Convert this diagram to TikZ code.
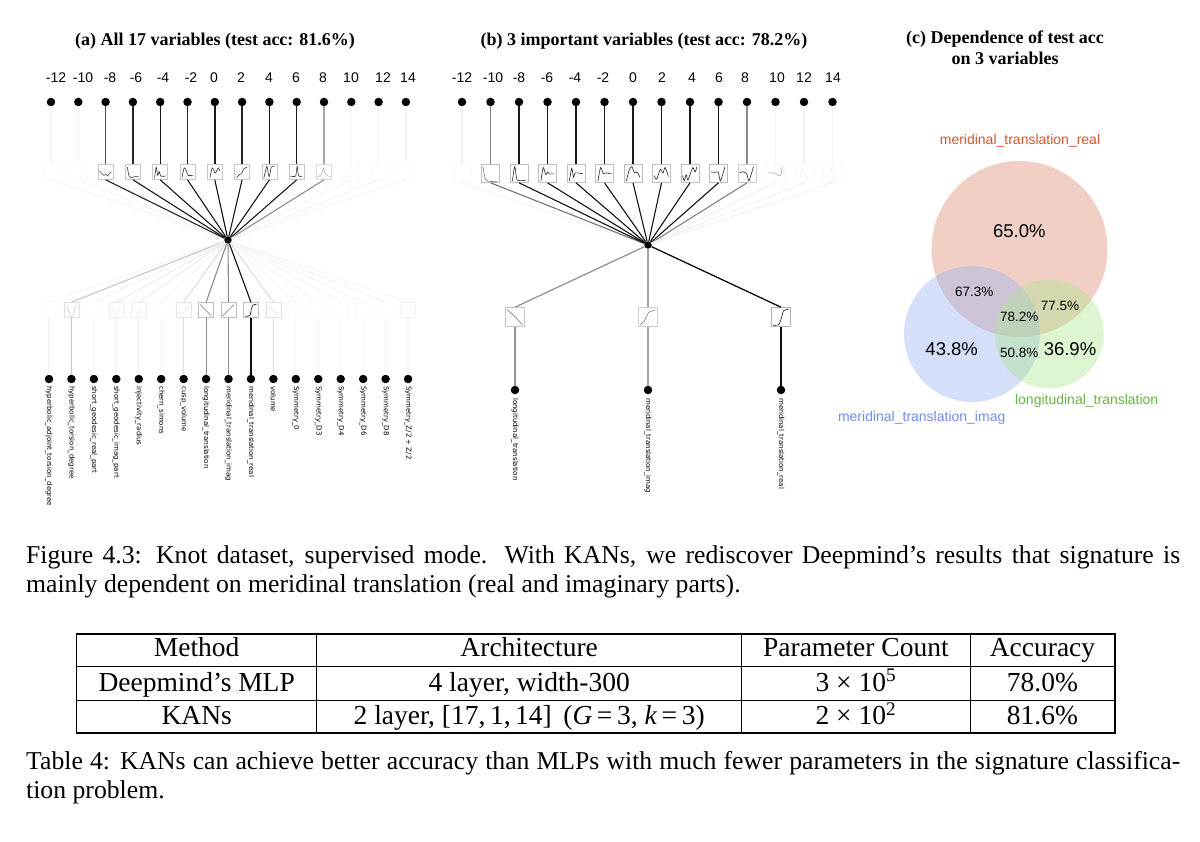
\documentclass[tikz,border=0pt]{standalone}
\usepackage{fontspec}
\setmainfont{Liberation Serif}
\newfontfamily\arialf{Liberation Sans}
\newfontfamily\djv{DejaVu Sans}
\definecolor{vred}{RGB}{222,137,112}
\definecolor{vblue}{RGB}{152,177,242}
\definecolor{vgreen}{RGB}{172,230,142}
\definecolor{tred}{RGB}{208,88,52}
\definecolor{tblue}{RGB}{110,143,230}
\definecolor{tgreen}{RGB}{104,180,66}
\newcommand\kfn[4]{\draw[#2, line width=0.6pt, x=#3, y=#3, shift={(#1.south west)}] plot[smooth, tension=0.4] coordinates {#4};}
\begin{document}
\begin{tikzpicture}[x=1pt,y=-1pt,
  dot/.style={circle,fill=black,inner sep=0,minimum size=8.5pt},
  hid/.style={circle,fill=black,inner sep=0,minimum size=7.5pt},
  fbox/.style={draw=black!#1,fill=white,inner sep=0,line width=0.6pt},
  num/.style={font=\arialf\fontsize{14}{16}\selectfont},
  vlab/.style={font=\djv\fontsize{7}{8}\selectfont, rotate=-90, anchor=west, inner sep=0},
  ptitle/.style={font=\bfseries\fontsize{18}{21}\selectfont, align=center},
  vnum/.style={font=\arialf\fontsize{18.5}{20}\selectfont},
  vsm/.style={font=\arialf\fontsize{13.5}{15}\selectfont},
  vtxt/.style={font=\arialf\fontsize{14}{16}\selectfont},
  cell/.style={font=\fontsize{27.5}{30}\selectfont, anchor=base, inner sep=0},
  capl/.style={font=\fontsize{25.7}{29}\selectfont, anchor=base west, inner sep=0}]
\fill[white] (0,0) rectangle (1200,842);
\useasboundingbox (0,0) rectangle (1200,842);

% ---------------- panel (a) ----------------
\node[ptitle] (ta) at (215,41) {(a) All 17 variables (test acc: 81.6\%)};
\node[hid] (ah) at (228,240) {};
\foreach \i/\x/\t in {0/56/-12,1/83/-10,2/110/-8,3/136/-6,4/163/-4,5/191/-2,6/214/0,7/241/2,8/269/4,9/296/6,10/323/8,11/351/10,12/383/12,13/408/14}
  \node[num] (na\i) at (\x,78) {\t};
\foreach \i/\e/\d/\b in {0/4/4/2,1/4/4/2,2/70/85/22,3/85/90/22,4/90/90/22,5/85/90/22,6/90/95/22,7/85/90/22,8/90/90/22,9/90/90/22,10/35/45/14,11/4/4/2,12/4/4/2,13/4/4/2}{
  \node[dot] (at\i) at ({51+27.3*\i},102) {};
  \node[fbox=\b, minimum size=15pt] (ab\i) at ({51+27.3*\i},172) {};
  \draw[line width=1.4pt, black!\e] (at\i) -- (ab\i.north);
  \draw[line width=1.1pt, black!\d] (ab\i.south) -- (ah);
}
\kfn{ab2}{black!70}{15pt}{(0.1,0.6) (0.25,0.45) (0.4,0.3) (0.55,0.35) (0.65,0.25) (0.8,0.45) (0.9,0.5)}
\kfn{ab3}{black!80}{15pt}{(0.15,0.85) (0.25,0.3) (0.4,0.15) (0.6,0.2) (0.9,0.2)}
\kfn{ab4}{black!80}{15pt}{(0.15,0.1) (0.25,0.85) (0.35,0.3) (0.45,0.55) (0.55,0.25) (0.9,0.25)}
\kfn{ab5}{black!80}{15pt}{(0.15,0.15) (0.3,0.8) (0.45,0.6) (0.55,0.3) (0.9,0.3)}
\kfn{ab6}{black!80}{15pt}{(0.2,0.15) (0.35,0.8) (0.55,0.45) (0.75,0.8) (0.85,0.6)}
\kfn{ab7}{black!80}{15pt}{(0.15,0.15) (0.35,0.35) (0.5,0.4) (0.6,0.7) (0.85,0.85)}
\kfn{ab8}{black!80}{15pt}{(0.15,0.1) (0.35,0.9) (0.5,0.2) (0.65,0.85) (0.85,0.9)}
\kfn{ab9}{black!80}{15pt}{(0.1,0.25) (0.45,0.25) (0.55,0.9) (0.65,0.25) (0.9,0.25)}
\kfn{ab10}{black!30}{15pt}{(0.1,0.2) (0.35,0.35) (0.5,0.8) (0.6,0.4) (0.9,0.2)}
\foreach \j/\e/\b in {0/4/2,1/22/12,2/4/2,3/7/7,4/7/7,5/4/2,6/13/10,7/45/25,8/45/25,9/95/25,10/13/12,11/4/2,12/4/2,13/4/2,14/4/2,15/4/2,16/4/5}{
  \node[fbox=\b, minimum size=15pt] (bb\j) at ({49+22.44*\j},310) {};
  \node[dot] (bd\j) at ({49+22.44*\j},379) {};
  \draw[line width=1.1pt, black!\e] (ah) -- (bb\j.north);
  \draw[line width=1.1pt, black!\e] (bb\j.south) -- (bd\j);
}
\kfn{bb1}{black!20}{15pt}{(0.2,0.8) (0.45,0.15) (0.6,0.15) (0.8,0.85)}
\kfn{bb3}{black!8}{15pt}{(0.2,0.8) (0.4,0.2) (0.6,0.4) (0.8,0.7)}
\kfn{bb4}{black!8}{15pt}{(0.2,0.7) (0.4,0.3) (0.5,0.6) (0.8,0.3)}
\kfn{bb6}{black!10}{15pt}{(0.15,0.4) (0.4,0.2) (0.8,0.8)}
\kfn{bb7}{black!55}{15pt}{(0.12,0.88) (0.5,0.5) (0.88,0.12)}
\kfn{bb8}{black!55}{15pt}{(0.12,0.12) (0.5,0.5) (0.88,0.88)}
\kfn{bb9}{black!90}{15pt}{(0.15,0.1) (0.45,0.15) (0.55,0.6) (0.65,0.85) (0.9,0.9)}
\kfn{bb10}{black!12}{15pt}{(0.15,0.8) (0.85,0.2)}
\kfn{bb16}{black!7}{15pt}{(0.2,0.3) (0.5,0.6) (0.8,0.8)}
\node[vlab] (la0) at (49,386) {hyperbolic\_adjoint\_torsion\_degree};
\node[vlab] (la1) at (71.44,386) {hyperbolic\_torsion\_degree};
\node[vlab] (la2) at (93.88,386) {short\_geodesic\_real\_part};
\node[vlab] (la3) at (116.32,386) {short\_geodesic\_imag\_part};
\node[vlab] (la4) at (138.76,386) {injectivity\_radius};
\node[vlab] (la5) at (161.2,386) {chern\_simons};
\node[vlab] (la6) at (183.64,386) {cusp\_volume};
\node[vlab] (la7) at (206.08,386) {longitudinal\_translation};
\node[vlab] (la8) at (228.52,386) {meridinal\_translation\_imag};
\node[vlab] (la9) at (250.96,386) {meridinal\_translation\_real};
\node[vlab] (la10) at (273.4,386) {volume};
\node[vlab] (la11) at (295.84,386) {Symmetry\_0};
\node[vlab] (la12) at (318.28,386) {Symmetry\_D3};
\node[vlab] (la13) at (340.72,386) {Symmetry\_D4};
\node[vlab] (la14) at (363.16,386) {Symmetry\_D6};
\node[vlab] (la15) at (385.6,386) {Symmetry\_D8};
\node[vlab] (la16) at (408.04,386) {Symmetry\_Z/2 + Z/2};

% ---------------- panel (b) ----------------
\node[ptitle] (tb) at (644,41) {(b) 3 important variables (test acc: 78.2\%)};
\node[hid] (bh) at (648,245) {};
\foreach \i/\x/\t in {0/462/-12,1/493/-10,2/519/-8,3/547/-6,4/575/-4,5/603/-2,6/633/0,7/662/2,8/692/4,9/719/6,10/745/8,11/777/10,12/804/12,13/833/14}
  \node[num] (nb\i) at (\x,78) {\t};
\foreach \i/\e/\d/\b in {0/5/5/3,1/50/55/25,2/90/92/25,3/90/92/25,4/90/92/25,5/90/92/25,6/90/92/25,7/90/92/25,8/90/92/25,9/90/92/25,10/45/50/20,11/5/5/3,12/5/5/3,13/5/5/3}{
  \node[dot] (bt\i) at ({462+28.5*\i},102) {};
  \node[fbox=\b, minimum size=18pt] (tbx\i) at ({462+28.5*\i},173.5) {};
  \draw[line width=1.4pt, black!\e] (bt\i) -- (tbx\i.north);
  \draw[line width=1.1pt, black!\d] (tbx\i.south) -- (bh);
}
\kfn{tbx1}{black!55}{18pt}{(0.1,0.9) (0.2,0.3) (0.35,0.1) (0.9,0.06)}
\kfn{tbx2}{black!85}{18pt}{(0.15,0.1) (0.28,0.9) (0.42,0.15) (0.9,0.15)}
\kfn{tbx3}{black!85}{18pt}{(0.15,0.1) (0.28,0.85) (0.42,0.45) (0.52,0.6) (0.62,0.5) (0.9,0.5)}
\kfn{tbx4}{black!85}{18pt}{(0.15,0.1) (0.28,0.8) (0.38,0.3) (0.48,0.55) (0.9,0.5)}
\kfn{tbx5}{black!85}{18pt}{(0.15,0.1) (0.3,0.85) (0.45,0.5) (0.6,0.55) (0.9,0.5)}
\kfn{tbx6}{black!85}{18pt}{(0.15,0.1) (0.3,0.7) (0.45,0.9) (0.6,0.55) (0.75,0.6) (0.9,0.3)}
\kfn{tbx7}{black!85}{18pt}{(0.1,0.4) (0.25,0.2) (0.45,0.75) (0.6,0.55) (0.72,0.85) (0.9,0.35)}
\kfn{tbx8}{black!85}{18pt}{(0.1,0.4) (0.2,0.12) (0.3,0.45) (0.4,0.15) (0.55,0.55) (0.68,0.85) (0.8,0.6) (0.9,0.9)}
\kfn{tbx9}{black!85}{18pt}{(0.1,0.6) (0.35,0.58) (0.5,0.6) (0.62,0.1) (0.76,0.5) (0.88,0.9)}
\kfn{tbx10}{black!85}{18pt}{(0.1,0.55) (0.3,0.62) (0.5,0.5) (0.62,0.1) (0.76,0.5) (0.88,0.9)}
\kfn{tbx11}{black!35}{18pt}{(0.1,0.55) (0.4,0.55) (0.6,0.45) (0.8,0.4) (0.9,0.9)}
\kfn{tbx12}{black!6}{18pt}{(0.1,0.2) (0.3,0.3) (0.45,0.8) (0.55,0.3) (0.9,0.2)}
\kfn{tbx13}{black!6}{18pt}{(0.1,0.2) (0.3,0.3) (0.45,0.8) (0.55,0.3) (0.9,0.2)}
\foreach \n/\x/\e/\b in {bl/515/42/22,bi/648/35/20,br/781/95/30}{
  \node[fbox=\b, minimum size=19pt] (bx\n) at (\x,317) {};
  \node[dot] (bd\n) at (\x,390) {};
  \draw[line width=1.3pt, black!\e] (bh) -- (bx\n.north);
  \draw[line width=1.3pt, black!\e] (bx\n.south) -- (bd\n);
}
\kfn{bxbl}{black!55}{19pt}{(0.1,0.9) (0.5,0.55) (0.9,0.1)}
\kfn{bxbi}{black!50}{19pt}{(0.1,0.1) (0.35,0.35) (0.55,0.75) (0.9,0.9)}
\kfn{bxbr}{black!90}{19pt}{(0.1,0.08) (0.4,0.12) (0.55,0.5) (0.65,0.85) (0.9,0.92)}
\node[vlab] (lbl) at (515,398) {longitudinal\_translation};
\node[vlab] (lbi) at (648,398) {meridinal\_translation\_imag};
\node[vlab] (lbr) at (781,398) {meridinal\_translation\_real};

% ---------------- panel (c) ----------------
\node[ptitle] (tc) at (1005,48) {(c) Dependence of test acc\\on 3 variables};
\fill[vred, fill opacity=0.4] (1019.5,249) circle (88pt);
\fill[vblue, fill opacity=0.4] (972,334) circle (68pt);
\fill[vgreen, fill opacity=0.4] (1049.3,334) circle (54.5pt);
\node[vtxt, text=tred] (lr) at (1020,141) {meridinal\_translation\_real};
\node[vtxt, text=tblue] (li) at (921.7,418) {meridinal\_translation\_imag};
\node[vtxt, text=tgreen] (lg) at (1086.7,401) {longitudinal\_translation};
\node[vnum] (p1) at (1019.3,231) {65.0\%};
\node[vnum] (p2) at (951.7,349.5) {43.8\%};
\node[vnum] (p3) at (1070,349.5) {36.9\%};
\node[vsm] (p4) at (974.3,292) {67.3\%};
\node[vsm] (p5) at (1060,306) {77.5\%};
\node[vsm] (p6) at (1019.3,317) {78.2\%};
\node[vsm] (p7) at (1019.3,353) {50.8\%};

% ---------------- captions and table ----------------
\node[capl] (cap1) at (26,563) {\hbox to 1154pt{Figure 4.3: Knot dataset, supervised mode. With KANs, we rediscover Deepmind’s results that signature is}};
\node[capl] (cap2) at (26,592) {mainly dependent on meridinal translation (real and imaginary parts).};

\draw[line width=1.2pt] (76.7,634) rectangle (1115,733);
\draw[line width=1pt] (76.7,666) -- (1115,666);
\draw[line width=1pt] (76.7,700) -- (1115,700);
\draw[line width=1pt] (316.7,634) -- (316.7,733);
\draw[line width=1pt] (741.7,634) -- (741.7,733);
\draw[line width=1pt] (970,634) -- (970,733);
\node[cell] (h1) at (196.7,656.7) {Method};
\node[cell] (h2) at (529.2,656.7) {Architecture};
\node[cell] (h3) at (855.9,656.7) {Parameter Count};
\node[cell] (h4) at (1042.5,656.7) {Accuracy};
\node[cell] (r11) at (196.7,691) {Deepmind’s MLP};
\node[cell] (r12) at (529.2,691) {4 layer, width-300};
\node[cell] (r13) at (855.9,691) {3 × 10\textsuperscript{5}};
\node[cell] (r14) at (1042.5,691) {78.0\%};
\node[cell] (r21) at (196.7,724.3) {KANs};
\node[cell] (r22) at (529.2,724.3) {2 layer, [17,\,1,\,14]\, (\textit{G}\,=\,3, \textit{k}\,=\,3)};
\node[cell] (r23) at (855.9,724.3) {2 × 10\textsuperscript{2}};
\node[cell] (r24) at (1042.5,724.3) {81.6\%};

\node[capl] (cap3) at (26,769) {\hbox to 1154pt{Table 4: KANs can achieve better accuracy than MLPs with much fewer parameters in the signature classifica-}};
\node[capl] (cap4) at (26,798) {tion problem.};
\end{tikzpicture}
\end{document}
